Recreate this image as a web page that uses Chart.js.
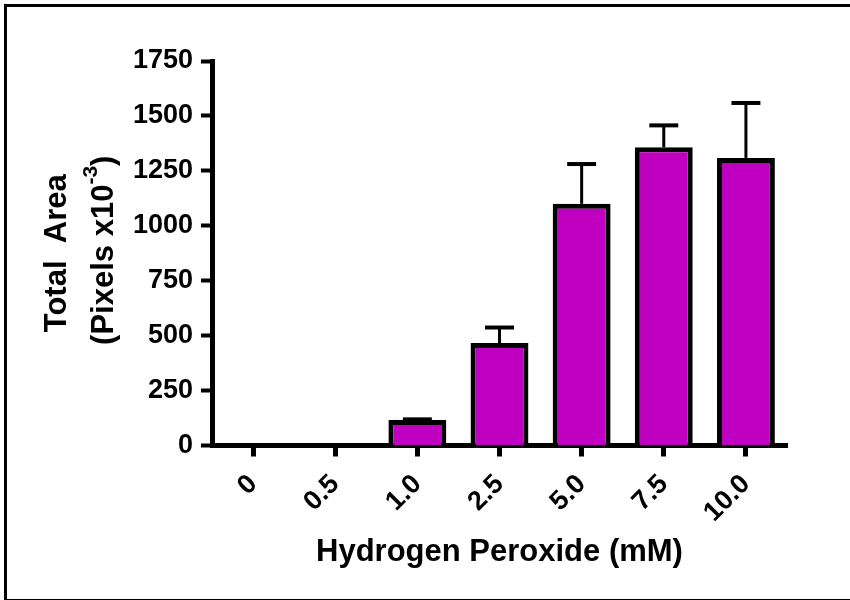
<!DOCTYPE html>
<html lang="en">
<head>
  <meta charset="UTF-8">
  <title>Total Area vs Hydrogen Peroxide</title>
  <script src="https://cdn.jsdelivr.net/npm/chart.js"></script>
  <style>
    body {
      margin: 0;
      padding: 0;
      background: #fff;
    }
    .wrap {
      position: relative;
      width: 850px;
      height: 600px;
      overflow: hidden;
    }
    .frame {
      position: absolute;
      left: 4px;
      top: 4px;
      width: 850px;
      height: 592px;
      border-left: 3px solid #000;
      border-top: 3px solid #000;
      border-bottom: 2px solid #000;
      pointer-events: none;
    }
  </style>
</head>
<body>
  <div class="wrap">
    <canvas id="chart" width="850" height="600"></canvas>
    <div class="frame"></div>
  </div>
  <script>
    // data
    const doses = ["0", "0.5", "1.0", "2.5", "5.0", "7.5", "10.0"];
    const totalArea = [0, 0, 116, 466, 1100, 1357, 1309];
    const errUp = [null, null, 3, 71, 181, 100, 250];
    const yTicks = [0, 250, 500, 750, 1000, 1250, 1500, 1750];
    const xTitle = "Hydrogen Peroxide (mM)";
    const yTitle1 = "Total  Area";
    const yTitle2 = ["(Pixels x10", "-3", ")"];

    const FONT = "'Liberation Sans', Arial, sans-serif";
    Chart.defaults.font.family = FONT;
    Chart.defaults.color = '#000';

    // upward-only error bars with caps
    const errorBars = {
      id: 'errorBars',
      afterDatasetsDraw(chart) {
        const ctx = chart.ctx;
        const y = chart.scales.y;
        const meta = chart.getDatasetMeta(0);
        ctx.save();
        ctx.strokeStyle = '#000';
        ctx.lineCap = 'butt';
        meta.data.forEach((bar, i) => {
          if (errUp[i] == null) return;
          const top = y.getPixelForValue(totalArea[i] + errUp[i]);
          ctx.lineWidth = 3;
          ctx.beginPath();
          ctx.moveTo(bar.x, bar.y);
          ctx.lineTo(bar.x, top);
          ctx.stroke();
          const half = bar.width * 0.25;
          ctx.lineWidth = 4;
          ctx.beginPath();
          ctx.moveTo(bar.x - half, top);
          ctx.lineTo(bar.x + half, top);
          ctx.stroke();
        });
        ctx.restore();
      }
    };

    // two-line y title with a superscript exponent
    const yTitle = {
      id: 'yTitle',
      afterDraw(chart) {
        const ctx = chart.ctx;
        const area = chart.chartArea;
        const cy = (area.top + area.bottom) / 2;
        const big = "bold 31px " + FONT;
        const small = "bold 21px " + FONT;
        ctx.save();
        ctx.fillStyle = '#000';
        ctx.textBaseline = 'middle';

        ctx.save();
        ctx.translate(57, cy);
        ctx.rotate(-Math.PI / 2);
        ctx.font = big;
        ctx.textAlign = 'center';
        ctx.fillText(yTitle1, 0, 0);
        ctx.restore();

        ctx.save();
        ctx.translate(104, cy - 3);
        ctx.rotate(-Math.PI / 2);
        ctx.textAlign = 'left';
        ctx.font = big;
        const w1 = ctx.measureText(yTitle2[0]).width;
        const w3 = ctx.measureText(yTitle2[2]).width;
        ctx.font = small;
        const w2 = ctx.measureText(yTitle2[1]).width;
        let x0 = -(w1 + w2 + w3) / 2;
        ctx.font = big;
        ctx.fillText(yTitle2[0], x0, 0);
        ctx.font = small;
        ctx.fillText(yTitle2[1], x0 + w1, -13);
        ctx.font = big;
        ctx.fillText(yTitle2[2], x0 + w1 + w2, 0);
        ctx.restore();

        ctx.restore();
      }
    };

    new Chart(document.getElementById('chart'), {
      type: 'bar',
      data: {
        labels: doses,
        datasets: [{
          data: totalArea,
          backgroundColor: '#c000c0',
          borderColor: '#000',
          borderWidth: 5,
          barPercentage: 0.705,
          categoryPercentage: 1.0
        }]
      },
      options: {
        responsive: false,
        animation: false,
        layout: { padding: { top: 61, right: 63, bottom: 0, left: 0 } },
        plugins: {
          legend: { display: false },
          tooltip: { enabled: false }
        },
        scales: {
          x: {
            grid: { display: true, drawOnChartArea: false, offset: false, tickLength: 11, tickWidth: 5, tickColor: '#000' },
            border: { color: '#000', width: 5 },
            ticks: { color: '#000', font: { size: 27, weight: 'bold' }, minRotation: 45, maxRotation: 45, padding: 12 },
            title: { display: true, text: xTitle, color: '#000', font: { size: 31, weight: 'bold' }, padding: { top: 0, bottom: 29 } },
            afterFit: s => { s.height = 154.5; }
          },
          y: {
            min: 0,
            max: 1750,
            afterBuildTicks: s => { s.ticks = yTicks.map(v => ({ value: v })); },
            grid: { display: true, drawOnChartArea: false, tickLength: 11, tickWidth: 4, tickColor: '#000' },
            border: { color: '#000', width: 5 },
            ticks: { color: '#000', font: { size: 27, weight: 'bold' }, padding: 8, callback: v => String(v) },
            afterFit: s => { s.width = 212; }
          }
        }
      },
      plugins: [errorBars, yTitle]
    });
  </script>
</body>
</html>
